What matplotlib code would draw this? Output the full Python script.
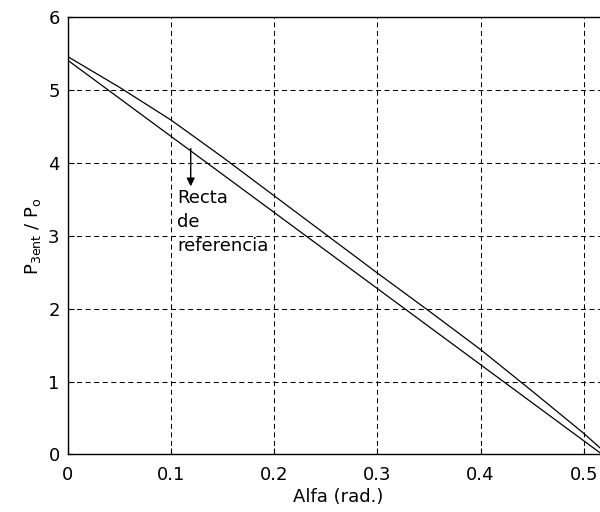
import matplotlib
matplotlib.use('Agg')
import matplotlib.pyplot as plt

plt.rcParams['font.family'] = ['DejaVu Sans']
plt.rcParams['mathtext.fontset'] = 'dejavusans'

# curve
alfa = [0.0, 0.05, 0.1, 0.15, 0.2, 0.25, 0.3, 0.35, 0.4, 0.45, 0.5, 0.523]
p3ent = [5.46, 5.04, 4.59, 4.08, 3.55, 3.02, 2.49, 1.97, 1.44, 0.87, 0.29, 0.0]

# reference straight line
ref_alfa = [0.0, 0.518]
ref_p = [5.41, 0.0]

xticks = [0, 0.1, 0.2, 0.3, 0.4, 0.5]
xticklabels = ['0', '0.1', '0.2', '0.3', '0.4', '0.5']
yticks = [0, 1, 2, 3, 4, 5, 6]

fig = plt.figure(figsize=(6, 5.12), dpi=100)
# right edge of the axes runs past the image, as in the original crop
ax = fig.add_axes([0.1133, 0.1125, 0.9, 0.8535])

ax.plot(alfa, p3ent, color='black', lw=0.9)
ax.plot(ref_alfa, ref_p, color='black', lw=0.9)

ax.set_xlim(0, 0.5236)
ax.set_ylim(0, 6)
ax.set_xticks(xticks)
ax.set_xticklabels(xticklabels)
ax.set_yticks(yticks)
ax.tick_params(direction='in', length=4, width=0.8, labelsize=13, colors='black')
ax.tick_params(axis='x', pad=8)
ax.tick_params(axis='y', pad=6)

ax.grid(True, color='black', lw=0.75, linestyle=(0, (4.8, 3.4)))
for s in ax.spines.values():
    s.set_linewidth(1.0)
    s.set_color('black')

ax.set_xlabel('Alfa (rad.)', fontsize=13, labelpad=3)
ax.set_ylabel(r'P$_{\mathrm{3ent}}$ / P$_{\mathrm{o}}$', fontsize=13, labelpad=4)

ax.annotate('', xy=(0.119, 3.68), xytext=(0.119, 4.2),
            arrowprops=dict(arrowstyle='-|>', color='black', lw=1.0,
                            mutation_scale=12, shrinkA=0, shrinkB=0))
ax.text(0.106, 3.65, 'Recta\nde\nreferencia', fontsize=13, ha='left', va='top',
        linespacing=1.45)

fig.savefig('out.png', dpi=100)
